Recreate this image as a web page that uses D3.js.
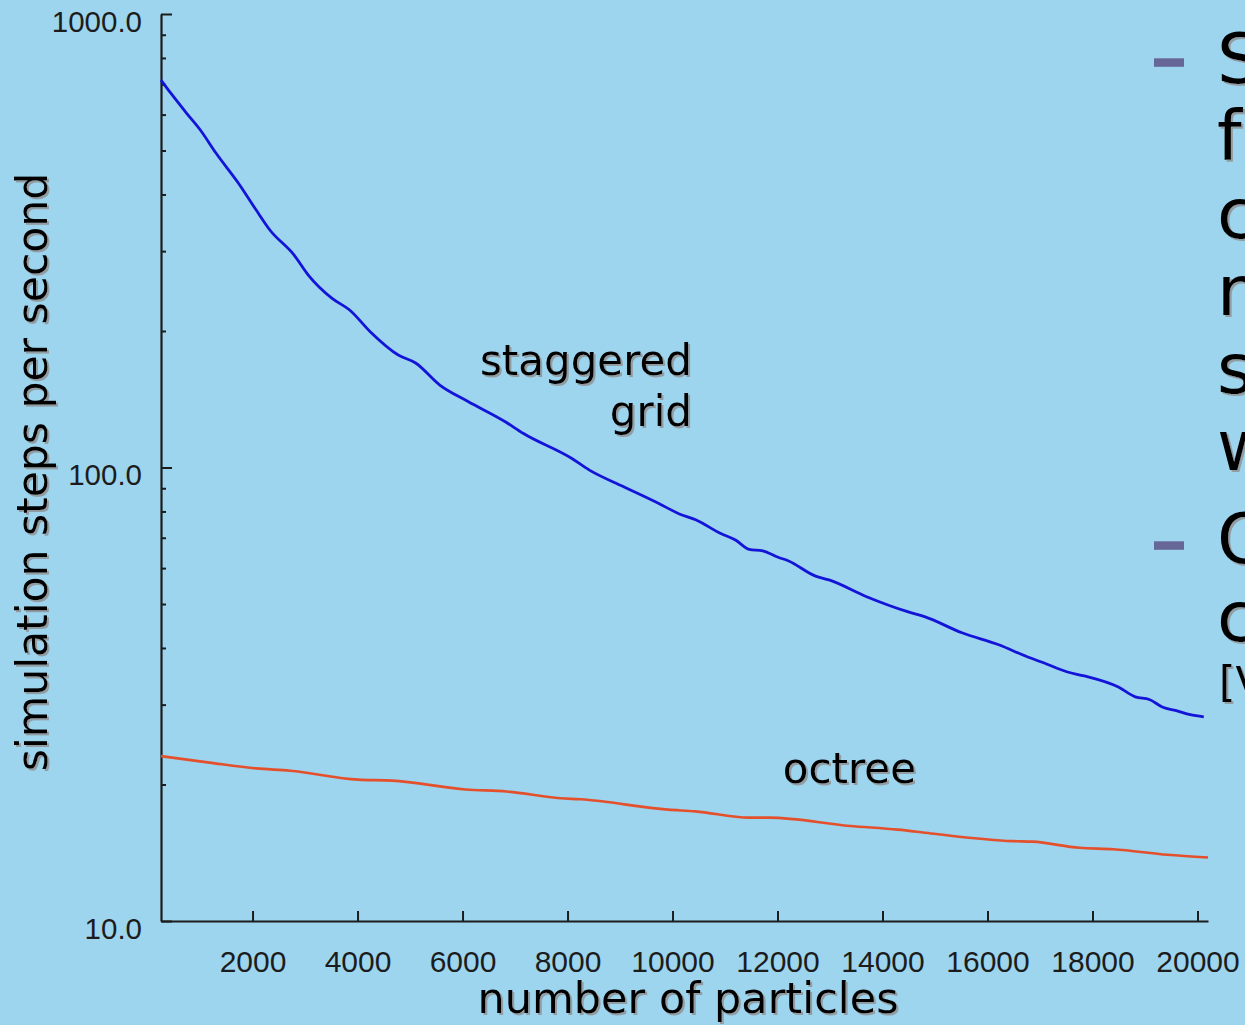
<!DOCTYPE html>
<html>
<head>
<meta charset="utf-8">
<script src="https://cdn.jsdelivr.net/npm/d3@7"></script>
<style>
  html, body { margin: 0; padding: 0; background: #9dd5ef; overflow: hidden; }
  svg { display: block; }
  .tick text { font-family: "Liberation Sans", Arial, sans-serif; fill: #1c1c1c; }
  .slide { font-family: "DejaVu Sans", Verdana, sans-serif; fill: #000; }
</style>
</head>
<body>
<svg id="chart"></svg>
<script>
// staggered grid series (particles, steps per second)
var gridParticles = [256, 447, 745, 1005, 1306, 1735, 2066, 2330, 2792, 3058, 3515, 3849, 4246, 4775, 5106,
  5567, 6096, 6822, 7153, 8076, 8409, 9069, 9730, 10129, 10452, 10909, 11199, 11460, 11718, 12011, 12201,
  12724, 12981, 13697, 14476, 14800, 15514, 16227, 16744, 17067, 17523, 17846, 18493, 18816, 19082, 19340,
  19595, 19861, 20120];
var gridSteps = [715, 668, 604, 555, 493, 423, 370, 334, 294, 266, 236, 222.5, 199, 177, 170,
  152, 140, 126, 119, 104.8, 98.8, 90.7, 83.4, 79.0, 76.6, 71.6, 69.2, 66.0, 65.5, 63.4, 62.3,
  57.6, 56.5, 51.9, 48.1, 46.9, 43.2, 40.6, 38.3, 37.1, 35.4, 34.7, 32.8, 31.2, 30.8, 29.6,
  29.1, 28.5, 28.2];

// octree series
var octreeParticles = [256, 1177, 2070, 2716, 4009, 4655, 6062, 6841, 7867, 8248, 9920, 10433, 11460, 11840,
  13380, 14292, 14919, 16478, 16858, 17751, 18398, 19424, 20200];
var octreeSteps = [23.1, 22.35, 21.7, 21.45, 20.5, 20.4, 19.5, 19.3, 18.65, 18.55, 17.6, 17.45, 16.9, 16.9,
  16.2, 15.9, 15.6, 15.0, 14.96, 14.5, 14.4, 14.0, 13.8];

var xTicks = [2000, 4000, 6000, 8000, 10000, 12000, 14000, 16000, 18000, 20000];
var yMajor = [10, 100, 1000];
var yMinor = [20, 30, 40, 50, 60, 70, 80, 90, 200, 300, 400, 500, 600, 700, 800, 900];

// cut-off slide text on the right
var sideLines = ["S", "f", "c", "n", "s", "w", "O", "c"];
var sideNote = "[V";

var width = 1245, height = 1025;
var margin = { left: 161, top: 14, right: 37, bottom: 104 };

var svg = d3.select("#chart")
  .attr("width", width)
  .attr("height", height);

svg.append("rect").attr("width", width).attr("height", height).attr("fill", "#9dd5ef");

var defs = svg.append("defs");
var f = defs.append("filter").attr("id", "shadow")
  .attr("x", "-10%").attr("y", "-10%").attr("width", "130%").attr("height", "130%");
f.append("feDropShadow").attr("dx", 2).attr("dy", 2).attr("stdDeviation", 0.6)
  .attr("flood-color", "#8f8f8f").attr("flood-opacity", 0.8);

var x = d3.scaleLinear().domain([256, 20200]).range([margin.left, width - margin.right]);
var y = d3.scaleLog().domain([10, 1000]).range([height - margin.bottom, margin.top]);

// y axis: major ticks with labels, ticks point inward
var yAxis = svg.append("g")
  .attr("transform", "translate(" + margin.left + ",0)")
  .call(d3.axisLeft(y).tickValues(yMajor).tickSize(-11).tickSizeOuter(0)
    .tickPadding(19).tickFormat(d3.format(".1f")));
yAxis.selectAll("text").attr("dy", "0.59em").style("font-size", "29.5px");

// minor ticks
svg.append("g")
  .attr("transform", "translate(" + margin.left + ",0)")
  .call(d3.axisLeft(y).tickValues(yMinor).tickSize(-5).tickFormat(""))
  .select(".domain").remove();

// x axis
var xAxis = svg.append("g")
  .attr("transform", "translate(0," + (height - margin.bottom) + ")")
  .call(d3.axisBottom(x).tickValues(xTicks).tickSize(-10).tickSizeOuter(0)
    .tickPadding(30).tickFormat(d3.format("d")));
xAxis.selectAll("text").style("font-size", "30px");

svg.selectAll(".domain").attr("stroke", "#1c1c1c").attr("stroke-width", 2.2);
svg.selectAll(".tick line").attr("stroke", "#1c1c1c").attr("stroke-width", 2);

// lines
var line = d3.line()
  .curve(d3.curveMonotoneX)
  .x(function (d) { return x(d[0]); })
  .y(function (d) { return y(d[1]); });

svg.append("path")
  .datum(gridParticles.map(function (p, i) { return [p, gridSteps[i]]; }))
  .attr("fill", "none")
  .attr("stroke", "#1414d8")
  .attr("stroke-width", 2.8)
  .attr("stroke-linejoin", "round")
  .attr("d", line);

svg.append("path")
  .datum(octreeParticles.map(function (p, i) { return [p, octreeSteps[i]]; }))
  .attr("fill", "none")
  .attr("stroke", "#e4502c")
  .attr("stroke-width", 2.6)
  .attr("stroke-linejoin", "round")
  .attr("d", line);

// text with shadow
var txt = svg.append("g").attr("class", "slide").attr("filter", "url(#shadow)");

txt.append("text")
  .attr("x", 692).attr("y", 375)
  .attr("text-anchor", "end")
  .style("font-size", "42px")
  .text("staggered");
txt.append("text")
  .attr("x", 692).attr("y", 426)
  .attr("text-anchor", "end")
  .style("font-size", "42px")
  .text("grid");
txt.append("text")
  .attr("x", 916).attr("y", 783)
  .attr("text-anchor", "end")
  .style("font-size", "42px")
  .text("octree");

txt.append("text")
  .attr("x", 688).attr("y", 1013)
  .attr("text-anchor", "middle")
  .style("font-size", "43px")
  .text("number of particles");

txt.append("text")
  .attr("transform", "translate(47,472) rotate(-90)")
  .attr("text-anchor", "middle")
  .style("font-size", "42.5px")
  .text("simulation steps per second");

// side text (clipped by page edge)
var sideY = [83, 160, 238, 315, 393, 470, 563, 641];
sideLines.forEach(function (s, i) {
  txt.append("text")
    .attr("x", 1217).attr("y", sideY[i])
    .style("font-size", "70px")
    .text(s);
});
txt.append("text")
  .attr("x", 1219).attr("y", 697)
  .style("font-size", "42px")
  .text(sideNote);

// bullets
[62.5, 545.5].forEach(function (by) {
  svg.append("rect")
    .attr("x", 1154).attr("y", by - 4.2)
    .attr("width", 30).attr("height", 8.5)
    .attr("fill", "#676797");
});
</script>
</body>
</html>
